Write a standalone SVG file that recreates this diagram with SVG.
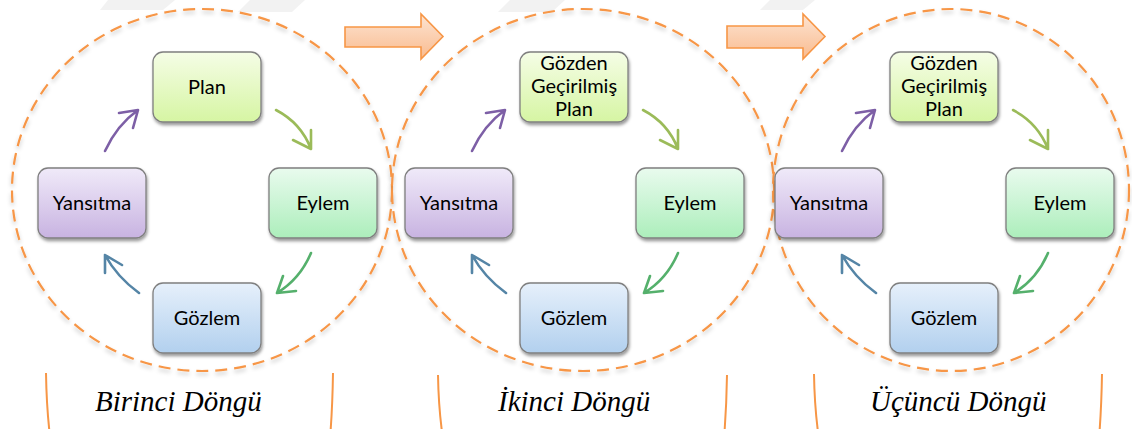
<svg xmlns="http://www.w3.org/2000/svg" width="1132" height="429" viewBox="0 0 1132 429">
  <defs>
    <linearGradient id="gPlan" x1="0" y1="0" x2="0" y2="1">
      <stop offset="0" stop-color="#f5fde6"/>
      <stop offset="1" stop-color="#d6f5a3"/>
    </linearGradient>
    <linearGradient id="gEylem" x1="0" y1="0" x2="0" y2="1">
      <stop offset="0" stop-color="#e9fbee"/>
      <stop offset="1" stop-color="#aceebb"/>
    </linearGradient>
    <linearGradient id="gGozlem" x1="0" y1="0" x2="0" y2="1">
      <stop offset="0" stop-color="#e6f0fb"/>
      <stop offset="1" stop-color="#b2d0ee"/>
    </linearGradient>
    <linearGradient id="gYans" x1="0" y1="0" x2="0" y2="1">
      <stop offset="0" stop-color="#f0eaf9"/>
      <stop offset="1" stop-color="#c8b3e1"/>
    </linearGradient>
    <linearGradient id="gBig" x1="0" y1="0" x2="0" y2="1">
      <stop offset="0" stop-color="#fde4d2"/>
      <stop offset="1" stop-color="#f9bb8f"/>
    </linearGradient>
    <filter id="shadow" x="-20%" y="-20%" width="140%" height="150%">
      <feDropShadow dx="1" dy="2.5" stdDeviation="1.6" flood-color="#000" flood-opacity="0.4"/>
    </filter>
    <filter id="ringShadow" x="-10%" y="-10%" width="120%" height="125%">
      <feDropShadow dx="0" dy="3" stdDeviation="2" flood-color="#000" flood-opacity="0.22"/>
    </filter>
  </defs>
  <style>
    .ring { fill: none; stroke: #f79646; stroke-width: 2.2; stroke-dasharray: 12 7; filter: url(#ringShadow); }
    .brace { fill: none; stroke: #f79646; stroke-width: 2; }
    .box { stroke: #7f7f7f; stroke-width: 1.3; filter: url(#shadow); }
    .lbl { font-family: Lato, "Liberation Sans", sans-serif; font-size: 20px; fill: #000; text-anchor: middle; }
    .cap { font-family: "Liberation Serif", "DejaVu Serif", serif; font-style: italic; font-size: 29px; fill: #000; }
    .big { fill: url(#gBig); stroke: #f79646; stroke-width: 1.6; stroke-linejoin: miter; }
    .cv { fill: none; stroke-width: 2.6; stroke-linecap: round; stroke-linejoin: round; }
    .c1 { stroke: #9bbb59; }
    .c2 { stroke: #55b06c; }
    .c3 { stroke: #5585a6; }
    .c4 { stroke: #7d5fa6; }
    .wm { fill: #e9e9e9; opacity: 0.6; }
  </style>

  <rect width="1132" height="429" fill="#ffffff"/>

  <!-- faint background stripes along the top edge -->
  <g id="backdrop">
    <polygon class="wm" points="108,0 175,0 163,10 100,10"/>
    <polygon class="wm" points="250,0 305,0 292,12 238,12"/>
    <polygon class="wm" points="510,0 565,0 552,12 498,12"/>
    <polygon class="wm" points="770,0 815,0 803,10 760,10"/>
  </g>

  <!-- dashed cycle rings -->
  <g id="rings">
    <ellipse class="ring" cx="202" cy="190" rx="190" ry="181"/>
    <ellipse class="ring" cx="583" cy="190" rx="191" ry="181"/>
    <ellipse class="ring" cx="951" cy="190" rx="178" ry="181"/>
  </g>

  <!-- block arrows between cycles -->
  <g id="step-arrow-1">
    <path class="big" d="M345,27 L421,27 L421,14 L443,36.5 L421,59 L421,47 L345,47 Z"/>
  </g>
  <g id="step-arrow-2">
    <path class="big" d="M727,26 L803,26 L803,14 L825,36.5 L803,59 L803,48 L727,48 Z"/>
  </g>

  <!-- curved connectors of each cycle -->
  <g id="connectors">
    <g transform="translate(0,0)">
      <path class="cv c1" d="M276,110 Q301,123 311,149 M293,140 L311,149 L311,130"/>
      <path class="cv c2" d="M311,253 Q300,279 277,293 M283,276 L277,293 L296,291"/>
      <path class="cv c3" d="M139,293 Q117,277 105,255 M105,273 L105,255 L122,265"/>
      <path class="cv c4" d="M105,151 Q117,125 138,110 M119,113 L138,110 L133,128"/>
    </g>
    <g transform="translate(367,0)">
      <path class="cv c1" d="M276,110 Q301,123 311,149 M293,140 L311,149 L311,130"/>
      <path class="cv c2" d="M311,253 Q300,279 277,293 M283,276 L277,293 L296,291"/>
      <path class="cv c3" d="M139,293 Q117,277 105,255 M105,273 L105,255 L122,265"/>
      <path class="cv c4" d="M105,151 Q117,125 138,110 M119,113 L138,110 L133,128"/>
    </g>
    <g transform="translate(737,0)">
      <path class="cv c1" d="M276,110 Q301,123 311,149 M293,140 L311,149 L311,130"/>
      <path class="cv c2" d="M311,253 Q300,279 277,293 M283,276 L277,293 L296,291"/>
      <path class="cv c3" d="M139,293 Q117,277 105,255 M105,273 L105,255 L122,265"/>
      <path class="cv c4" d="M105,151 Q117,125 138,110 M119,113 L138,110 L133,128"/>
    </g>
  </g>

  <!-- cycle 1 -->
  <g id="c1-plan">
    <rect class="box" x="153" y="52" width="108" height="70" rx="10" fill="url(#gPlan)"/>
    <text class="lbl" x="207" y="94">Plan</text>
  </g>
  <g id="c1-eylem">
    <rect class="box" x="269" y="168" width="108" height="70" rx="10" fill="url(#gEylem)"/>
    <text class="lbl" x="323" y="210">Eylem</text>
  </g>
  <g id="c1-gozlem">
    <rect class="box" x="153" y="283" width="108" height="70" rx="10" fill="url(#gGozlem)"/>
    <text class="lbl" x="207" y="325">Gözlem</text>
  </g>
  <g id="c1-yansitma">
    <rect class="box" x="38" y="168" width="108" height="70" rx="10" fill="url(#gYans)"/>
    <text class="lbl" x="92" y="210">Yansıtma</text>
  </g>

  <!-- cycle 2 -->
  <g id="c2-plan">
    <rect class="box" x="520" y="52" width="108" height="70" rx="10" fill="url(#gPlan)"/>
    <text class="lbl" x="574" y="70">Gözden</text>
    <text class="lbl" x="574" y="93">Geçirilmiş</text>
    <text class="lbl" x="574" y="116">Plan</text>
  </g>
  <g id="c2-eylem">
    <rect class="box" x="636" y="168" width="108" height="70" rx="10" fill="url(#gEylem)"/>
    <text class="lbl" x="690" y="210">Eylem</text>
  </g>
  <g id="c2-gozlem">
    <rect class="box" x="520" y="283" width="108" height="70" rx="10" fill="url(#gGozlem)"/>
    <text class="lbl" x="574" y="325">Gözlem</text>
  </g>
  <g id="c2-yansitma">
    <rect class="box" x="405" y="168" width="108" height="70" rx="10" fill="url(#gYans)"/>
    <text class="lbl" x="459" y="210">Yansıtma</text>
  </g>

  <!-- cycle 3 -->
  <g id="c3-plan">
    <rect class="box" x="890" y="52" width="108" height="70" rx="10" fill="url(#gPlan)"/>
    <text class="lbl" x="944" y="70">Gözden</text>
    <text class="lbl" x="944" y="93">Geçirilmiş</text>
    <text class="lbl" x="944" y="116">Plan</text>
  </g>
  <g id="c3-eylem">
    <rect class="box" x="1006" y="168" width="108" height="70" rx="10" fill="url(#gEylem)"/>
    <text class="lbl" x="1060" y="210">Eylem</text>
  </g>
  <g id="c3-gozlem">
    <rect class="box" x="890" y="283" width="108" height="70" rx="10" fill="url(#gGozlem)"/>
    <text class="lbl" x="944" y="325">Gözlem</text>
  </g>
  <g id="c3-yansitma">
    <rect class="box" x="775" y="168" width="108" height="70" rx="10" fill="url(#gYans)"/>
    <text class="lbl" x="829" y="210">Yansıtma</text>
  </g>

  <!-- captions with their side brackets -->
  <g id="caption-1">
    <path class="brace" d="M46,373 Q46.5,405 49.5,432"/>
    <path class="brace" d="M333,373 Q332.5,405 330.5,432"/>
    <text class="cap" x="95" y="411">Birinci Döngü</text>
  </g>
  <g id="caption-2">
    <path class="brace" d="M438,375 Q438.5,405 442,432"/>
    <path class="brace" d="M727,375 Q726.5,405 724.5,432"/>
    <text class="cap" x="498" y="411">İkinci Döngü</text>
  </g>
  <g id="caption-3">
    <path class="brace" d="M814,374 Q814.5,405 818,432"/>
    <path class="brace" d="M1102,374 Q1101.5,405 1099.5,432"/>
    <text class="cap" x="870" y="411">Üçüncü Döngü</text>
  </g>
</svg>
